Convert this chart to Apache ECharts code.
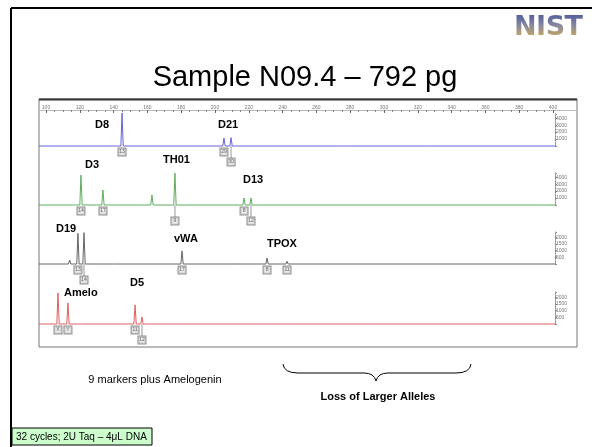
<!DOCTYPE html>
<html>
<head>
<meta charset="utf-8">
<script src="https://cdn.jsdelivr.net/npm/echarts@6/dist/echarts.min.js"></script>
<style>
    html, body { margin: 0; padding: 0; background: #fff; }
    #wrap { position: relative; width: 592px; height: 447px; }
    #main { width: 592px; height: 447px; }
    #logo {
        position: absolute; left: 514px; top: 10px; line-height: 27px;
        font: bold 27px "DejaVu Sans"; letter-spacing: -0.5px;
        background: linear-gradient(#3c4c9c, #8a88a0 50%, #dcb444);
        -webkit-background-clip: text; background-clip: text; color: transparent;
    }
</style>
</head>
<body>
<div id="wrap">
    <div id="main"></div>
    <div id="logo">NIST</div>
</div>
<script>
// peaks: [size in bp, height in RFU]
var bluePeaks = [[140.8, 180], [145.0, 4750], [147.9, 120], [205.3, 1150], [209.5, 1200], [272.8, 150], [278.0, 120], [325.4, 100]];
var greenPeaks = [[117.0, 150], [120.7, 4300], [129.0, 120], [133.7, 2150], [145.5, 80], [162.7, 1450], [176.3, 4600], [178.0, 200], [217.2, 1000], [221.3, 1000]];
var grayPeaks = [[114.0, 300], [118.9, 2300], [122.5, 2350], [128.0, 80], [140.0, 60], [180.5, 980], [213.0, 100], [230.8, 450], [242.6, 200]];
var redPeaks = [[107.1, 2330], [113.0, 1580], [121.0, 80], [152.7, 1430], [156.8, 530], [176.3, 100], [228.4, 150], [238.0, 60], [245.0, 60], [293.5, 100]];

// allele calls (bp, label)
var blueAlleleBp = [145.0, 205.3, 209.5];
var blueAlleleCalls = ['13', '29', '30'];
var greenAlleleBp = [120.7, 133.7, 176.3, 217.2, 221.3];
var greenAlleleCalls = ['14', '17', '9', '8', '12'];
var grayAlleleBp = [118.9, 122.5, 180.5, 230.8, 242.6];
var grayAlleleCalls = ['13', '14', '17', '8', '11'];
var redAlleleBp = [107.1, 113.0, 152.7, 156.8];
var redAlleleCalls = ['X', 'Y', '11', '12'];

// y scales of each dye panel
var blueScaleMax = 4600, greenScaleMax = 4600, grayScaleMax = 2400, redScaleMax = 2400;
var blueStep = 1000, greenStep = 1000, grayStep = 500, redStep = 500;

var sizeMin = 100, sizeMax = 400, sizeStep = 20;
var traceMin = 95.86, traceMax = 401.18;

var chart = echarts.init(document.getElementById('main'));

function traceData(peaks) {
    var pts = [[traceMin, 0]];
    peaks.forEach(function (p) {
        pts.push([p[0] - 0.7, 0], [p[0], p[1]], [p[0] + 0.7, 0]);
    });
    pts.push([traceMax, 0]);
    return pts;
}

// boxes of close alleles drop to a second row
function isLow(bps, i, forceLow) {
    return (i > 0 && bps[i] - bps[i - 1] < 5) || (forceLow || []).indexOf(i) >= 0;
}
function alleleData(bps, calls, forceLow) {
    return bps.map(function (bp, i) {
        return { value: [bp, 0], name: calls[i], label: { distance: isLow(bps, i, forceLow) ? 12 : 2 } };
    });
}
function leaderData(bps, forceLow) {
    return bps.filter(function (bp, i) { return isLow(bps, i, forceLow); }).map(function (bp) { return [bp, 0]; });
}

var panels = [
    { top: 114, max: blueScaleMax, step: blueStep, color: '#6464dc', peaks: bluePeaks, bps: blueAlleleBp, calls: blueAlleleCalls },
    { top: 173, max: greenScaleMax, step: greenStep, color: '#5fae5f', peaks: greenPeaks, bps: greenAlleleBp, calls: greenAlleleCalls, low: [2] },
    { top: 232, max: grayScaleMax, step: grayStep, color: '#666666', peaks: grayPeaks, bps: grayAlleleBp, calls: grayAlleleCalls },
    { top: 292, max: redScaleMax, step: redStep, color: '#e06060', peaks: redPeaks, bps: redAlleleBp, calls: redAlleleCalls }
];

var grid = [{ left: 46, width: 507, top: 100, height: 10 }];
var xAxis = [{
    gridIndex: 0, type: 'value', position: 'top', min: sizeMin, max: sizeMax, interval: sizeStep,
    axisLine: { show: false },
    axisTick: { inside: true, length: 3, lineStyle: { color: '#666' } },
    minorTick: { show: true, splitNumber: 4, length: 2, lineStyle: { color: '#888' } },
    axisLabel: { inside: true, margin: 5, fontSize: 5, color: '#777', fontFamily: 'Arial' },
    splitLine: { show: false }
}];
var yAxis = [{ gridIndex: 0, type: 'value', show: false }];
var series = [];

panels.forEach(function (p, i) {
    var gi = i + 1;
    grid.push({ left: 39, width: 516, top: p.top, height: 32 });
    xAxis.push({ gridIndex: gi, type: 'value', min: traceMin, max: traceMax, show: false });
    yAxis.push({
        gridIndex: gi, type: 'value', position: 'right', min: 0, max: p.max, interval: p.step,
        axisLine: { show: true, lineStyle: { color: '#888' } },
        axisTick: { show: true, length: 2, lineStyle: { color: '#888' } },
        minorTick: { show: true, splitNumber: 4, length: 1, lineStyle: { color: '#aaa' } },
        axisLabel: {
            fontSize: 5, color: '#777', margin: 1, fontFamily: 'Arial',
            formatter: function (v) { return (v === 0 || v % p.step) ? '' : v; }
        },
        splitLine: { show: false }
    });
    series.push({
        type: 'line', xAxisIndex: gi, yAxisIndex: gi, data: traceData(p.peaks),
        showSymbol: false, clip: false, silent: true,
        lineStyle: { color: p.color, width: 1 }
    });
    // thin leader from the baseline to a dropped box
    series.push({
        type: 'custom', xAxisIndex: gi, yAxisIndex: gi, data: leaderData(p.bps, p.low),
        encode: { x: 0, y: 1 }, silent: true, clip: false,
        renderItem: function (params, api) {
            var pt = api.coord([api.value(0), 0]);
            return {
                type: 'line',
                shape: { x1: pt[0], y1: pt[1], x2: pt[0], y2: pt[1] + 12 },
                style: { stroke: '#999', lineWidth: 1 }
            };
        }
    });
    series.push({
        type: 'scatter', xAxisIndex: gi, yAxisIndex: gi, data: alleleData(p.bps, p.calls, p.low),
        symbolSize: 1, itemStyle: { color: 'rgba(0,0,0,0)' }, silent: true,
        labelLayout: { hideOverlap: false },
        label: {
            show: true, position: 'bottom', formatter: '{b}',
            fontSize: 5, color: '#444', fontFamily: 'Arial',
            backgroundColor: '#e4e4e4', borderColor: '#777', borderWidth: 1,
            width: 7, height: 7, lineHeight: 7, align: 'center', padding: 0
        }
    });
});

function marker(text, x, y) {
    return {
        type: 'text', x: x, y: y, silent: true,
        style: { text: text, font: 'bold 11px Arial', fill: '#000', textVerticalAlign: 'middle' }
    };
}

function curve(x1, y1, cx, cy, x2, y2) {
    return {
        type: 'bezierCurve', silent: true,
        shape: { x1: x1, y1: y1, cpx1: cx, cpy1: cy, x2: x2, y2: y2 },
        style: { fill: 'none', stroke: '#000', lineWidth: 1 }
    };
}

var option = {
    animation: false,
    backgroundColor: '#fff',
    grid: grid,
    xAxis: xAxis,
    yAxis: yAxis,
    series: series,
    graphic: [
        // slide border
        { type: 'line', shape: { x1: 11, y1: 8, x2: 592, y2: 8 }, style: { stroke: '#000', lineWidth: 2 } },
        { type: 'line', shape: { x1: 11, y1: 8, x2: 11, y2: 447 }, style: { stroke: '#000', lineWidth: 2 } },
        {
            type: 'text', x: 305, y: 78,
            style: { text: 'Sample N09.4 – 792 pg', font: '29px Arial', fill: '#000', textAlign: 'center', textVerticalAlign: 'middle' }
        },
        // panel frame
        { type: 'rect', shape: { x: 39, y: 99, width: 538, height: 248 }, style: { fill: 'none', stroke: '#777', lineWidth: 1 } },
        { type: 'line', shape: { x1: 39, y1: 99.5, x2: 577, y2: 99.5 }, style: { stroke: '#333', lineWidth: 2 } },
        { type: 'line', shape: { x1: 39, y1: 110.5, x2: 577, y2: 110.5 }, style: { stroke: '#bbb', lineWidth: 1 } },
        marker('D8', 95, 125),
        marker('D21', 218, 125),
        marker('D3', 85, 165),
        marker('TH01', 163, 160),
        marker('D13', 243, 180),
        marker('D19', 56, 229),
        marker('vWA', 174, 239),
        marker('TPOX', 267, 244),
        marker('Amelo', 64, 293),
        marker('D5', 130, 283),
        {
            type: 'text', x: 155, y: 380,
            style: { text: '9 markers plus Amelogenin', font: '11px Arial', fill: '#000', textAlign: 'center', textVerticalAlign: 'middle' }
        },
        // brace over the large-allele region
        curve(283, 364, 284, 373, 298, 373),
        { type: 'line', shape: { x1: 298, y1: 373, x2: 364, y2: 373 }, style: { stroke: '#000', lineWidth: 1 } },
        curve(364, 373, 374, 373, 376, 381),
        curve(376, 381, 378, 373, 388, 373),
        { type: 'line', shape: { x1: 388, y1: 373, x2: 456, y2: 373 }, style: { stroke: '#000', lineWidth: 1 } },
        curve(456, 373, 470, 373, 471, 364),
        {
            type: 'text', x: 378, y: 397,
            style: { text: 'Loss of Larger Alleles', font: 'bold 11px Arial', fill: '#000', textAlign: 'center', textVerticalAlign: 'middle' }
        },
        { type: 'rect', shape: { x: 12, y: 428, width: 140, height: 17 }, style: { fill: '#ccffcc', stroke: '#000', lineWidth: 1 } },
        {
            type: 'text', x: 16, y: 437,
            style: { text: '32 cycles; 2U Taq – 4μL DNA', font: '10px Arial', fill: '#000', textVerticalAlign: 'middle' }
        }
    ]
};
chart.setOption(option);
</script>
</body>
</html>
